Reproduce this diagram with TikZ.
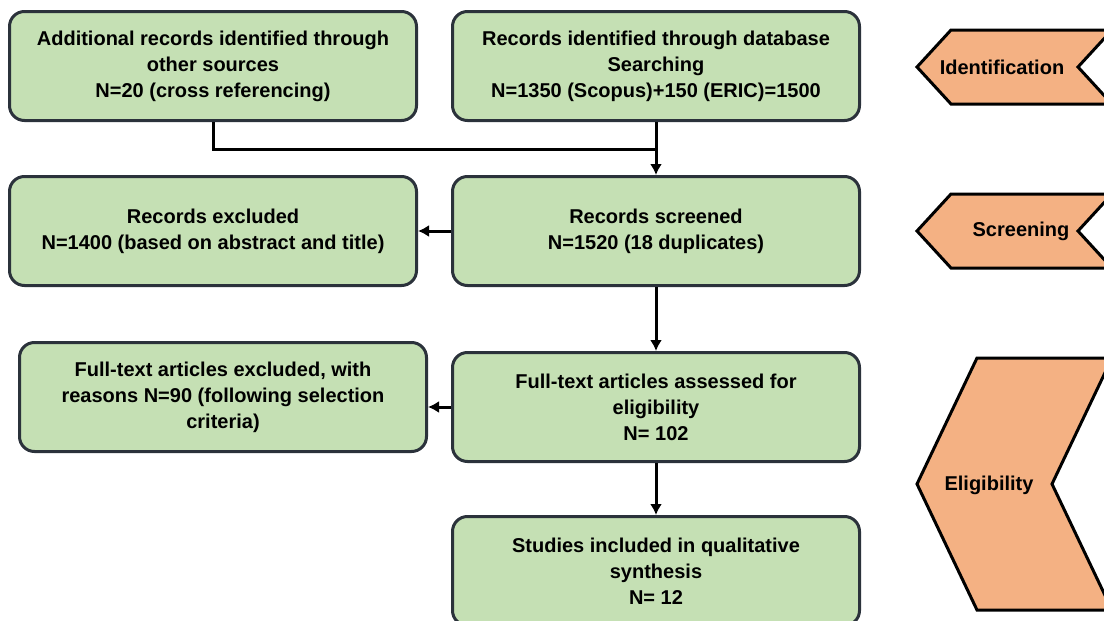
\documentclass[tikz,border=0pt]{standalone}
\usepackage{fontspec}
\setmainfont{Liberation Sans}
\usetikzlibrary{arrows.meta}

\definecolor{boxgreen}{HTML}{C5E0B4}
\definecolor{boxedge}{HTML}{2B323B}
\definecolor{stagefill}{HTML}{F4B183}

\tikzset{
    prismabox/.style={draw=boxedge, line width=3pt, fill=boxgreen, rounded corners=15pt,
        minimum width=407pt, minimum height=109pt, align=center, inner sep=0pt,
        font=\bfseries\fontsize{20}{26}\selectfont},
    stage/.style={draw=black, line width=3pt, fill=stagefill, line join=miter},
    stagetext/.style={font=\bfseries\fontsize{20}{24}\selectfont, inner sep=0pt},
    arr/.style={line width=3pt, -{Latex[length=11pt,width=12pt]}}
}

\begin{document}
\begin{tikzpicture}[x=1pt, y=-1pt]
        \useasboundingbox (0,0) rectangle (1104,621);
        \clip (0,0) rectangle (1104,621);
        \fill[white] (0,0) rectangle (1104,621);

        % left column and main column
        \node[prismabox] (addrec) at (213, 66) {Additional records identified through\\other sources\\N=20 (cross referencing)};
        \node[prismabox] (dbrec) at (656, 66) {Records identified through database\\Searching\\N=1350 (Scopus)+150 (ERIC)=1500};
        \node[prismabox] (excl) at (213, 231) {Records excluded\\N=1400 (based on abstract and title)};
        \node[prismabox] (screened) at (656, 231) {Records screened\\N=1520 (18 duplicates)};
        \node[prismabox] (ftexcl) at (223, 397) {Full-text articles excluded, with\\reasons N=90 (following selection\\criteria)};
        \node[prismabox] (assessed) at (656, 407) {Full-text articles assessed for\\eligibility\\N= 102};
        \node[prismabox] (included) at (656, 571) {Studies included in qualitative\\synthesis\\N= 12};

        % connectors
        \coordinate (join) at (656, 149);
        \draw[line width=3pt] (addrec.south) |- (join);
        \draw[arr] (dbrec.south) -- (screened.north);
        \draw[arr] (screened.west) -- (excl.east);
        \draw[arr] (screened.south) -- (assessed.north);
        \draw[arr] (assessed.west) -- (assessed.west -| ftexcl.east);
        \draw[arr] (assessed.south) -- (included.north);

        % stage chevrons
        \draw[stage] (917,67) -- (951,30) -- (1112,30) -- (1078,67) -- (1112,104) -- (951,104) -- cycle;
        \node[stagetext] (ident) at (1002, 67) {Identification};
        \draw[stage] (917,231) -- (951,194) -- (1112,194) -- (1078,231) -- (1112,268) -- (951,268) -- cycle;
        \node[stagetext] (screen) at (1021, 231) {Screening};
        \draw[stage] (917,484) -- (977,358) -- (1112,358) -- (1052,484) -- (1112,610) -- (977,610) -- cycle;
        \node[stagetext] (elig) at (989, 485) {Eligibility};
    \end{tikzpicture}
\end{document}
